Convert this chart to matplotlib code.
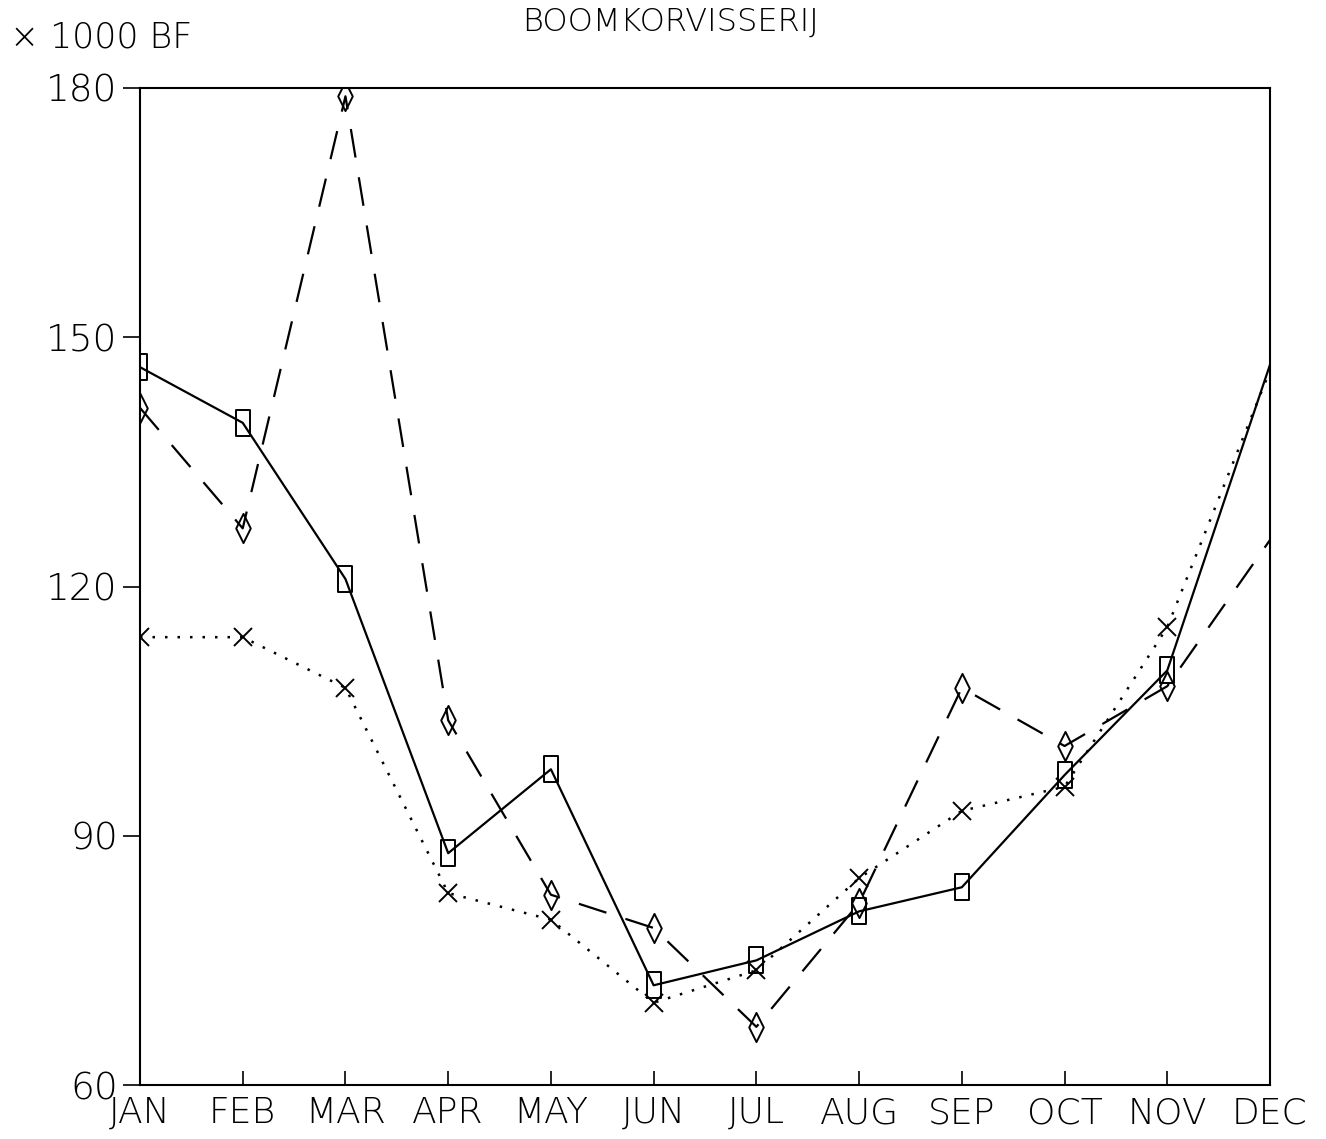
import matplotlib
matplotlib.use("Agg")
import matplotlib.pyplot as plt
from matplotlib.path import Path
import numpy as np

months = ["JAN", "FEB", "MAR", "APR", "MAY", "JUN", "JUL", "AUG", "SEP", "OCT", "NOV", "DEC"]
series_square = [146.4, 139.7, 120.9, 87.9, 98.0, 72.0, 75.0, 80.9, 83.8, 97.3, 109.9, 146.7]
series_diamond = [141.5, 127.0, 179.0, 103.9, 82.9, 78.9, 67.0, 81.9, 107.8, 100.8, 108.0, 125.6]
series_cross = [113.9, 113.9, 107.8, 83.1, 79.9, 69.9, 73.8, 84.9, 93.0, 95.9, 115.1, 146.0]
yticks = [60, 90, 120, 150, 180]

W, H = 1326, 1139
fig = plt.figure(figsize=(W / 100, H / 100), dpi=100)
ax = fig.add_axes([140 / W, 1 - 1085 / H, (1270 - 140) / W, (1085 - 88) / H])

rect = Path([(-0.5, -1), (0.5, -1), (0.5, 1), (-0.5, 1), (-0.5, -1)],
            [Path.MOVETO, Path.LINETO, Path.LINETO, Path.LINETO, Path.CLOSEPOLY])
diam = Path([(0, -1), (0.5, 0), (0, 1), (-0.5, 0), (0, -1)],
            [Path.MOVETO, Path.LINETO, Path.LINETO, Path.LINETO, Path.CLOSEPOLY])
xs = np.arange(len(months))
mk = slice(0, 11)

ax.plot(xs, series_square, color="black", lw=1.6, marker=rect, markersize=19,
        markerfacecolor="none", markeredgewidth=1.4, markevery=mk)
ax.plot(xs, series_diamond, color="black", lw=1.6, dashes=(13, 9), marker=diam,
        markersize=21, markerfacecolor="none", markeredgewidth=1.4, markevery=mk)
ax.plot(xs, series_cross, color="black", lw=1.8, dashes=(1, 4), marker="x",
        markersize=13, markeredgewidth=1.4, markevery=mk)

ax.set_xlim(0, 11)
ax.set_ylim(60, 180)
ax.set_xticks(xs)
ax.set_xticklabels(months)
ax.set_yticks(yticks)
ax.tick_params(axis="x", direction="in", length=10, width=1.2, pad=8, labelsize=26)
ax.tick_params(axis="y", direction="out", length=12, width=1.2, pad=4, labelsize=27)
for lab in ax.get_xticklabels() + ax.get_yticklabels():
    lab.set_fontfamily("DejaVu Sans")
    lab.set_fontweight("light")
for s in ax.spines.values():
    s.set_linewidth(1.5)

fig.text(10 / W, 1 - 38 / H, "× 1000 BF", fontsize=25, ha="left", va="center",
         fontfamily="DejaVu Sans", fontweight="light")
fig.text(670 / W, 1 - 22 / H, "BOOMKORVISSERIJ", fontsize=23, ha="center", va="center",
         fontfamily="DejaVu Sans", fontweight="light")

fig.savefig("out.png", dpi=100)
